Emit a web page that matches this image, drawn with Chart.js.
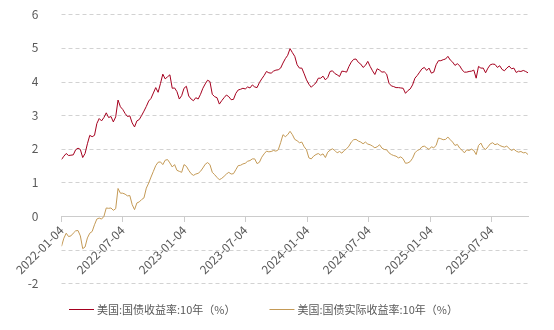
<!DOCTYPE html>
<html>
<head>
<meta charset="utf-8">
<script src="https://cdn.jsdelivr.net/npm/chart.js@4.4.1/dist/chart.umd.min.js"></script>
<style>
  html, body { margin: 0; padding: 0; background: #ffffff; }
  #wrap { width: 554px; height: 330px; }
</style>
</head>
<body>
<div id="wrap"><canvas id="c" width="554" height="330"></canvas></div>
<script>
// Weekly observations starting from the first date
const START_DATE = '2022-01-04';
const STEP_DAYS = 7;

// US 10Y Treasury yield (%)
const nominal10y = [
  1.68,1.78,1.86,1.80,1.81,1.82,1.97,2.02,1.98,1.74,
  1.86,2.15,2.40,2.36,2.40,2.75,2.90,2.83,2.93,3.07,
  2.93,2.96,2.80,2.95,3.45,3.25,3.17,3.05,2.96,2.98,
  2.77,2.65,2.83,2.87,2.99,3.12,3.26,3.42,3.50,3.66,
  3.82,3.68,3.94,4.22,4.08,4.14,4.20,3.80,3.81,3.70,
  3.48,3.58,3.80,3.86,3.57,3.48,3.43,3.52,3.48,3.62,
  3.80,3.93,4.04,4.00,3.62,3.55,3.52,3.33,3.43,3.52,
  3.60,3.55,3.46,3.47,3.65,3.75,3.77,3.80,3.78,3.84,
  3.81,3.90,3.84,3.82,3.97,4.08,4.18,4.30,4.26,4.25,
  4.31,4.34,4.35,4.40,4.55,4.68,4.78,4.98,4.86,4.75,
  4.50,4.40,4.40,4.23,4.05,3.92,3.83,3.90,3.96,4.10,
  4.10,4.16,4.05,4.12,4.30,4.32,4.24,4.20,4.15,4.31,
  4.30,4.28,4.45,4.58,4.66,4.67,4.57,4.52,4.42,4.48,
  4.60,4.45,4.32,4.21,4.38,4.34,4.28,4.29,4.22,3.95,
  3.87,3.85,3.82,3.82,3.81,3.80,3.65,3.73,3.78,3.90,
  4.10,4.18,4.28,4.38,4.42,4.33,4.40,4.25,4.28,4.50,
  4.62,4.62,4.65,4.67,4.75,4.64,4.58,4.48,4.53,4.47,
  4.35,4.28,4.28,4.30,4.31,4.34,4.10,4.45,4.40,4.40,
  4.26,4.40,4.50,4.52,4.51,4.42,4.47,4.36,4.32,4.40,
  4.46,4.38,4.40,4.27,4.31,4.30,4.33,4.30,4.26
];

// US 10Y real (inflation-indexed) yield (%)
const real10y = [
  -0.90,-0.66,-0.51,-0.61,-0.59,-0.51,-0.44,-0.43,-0.59,-0.97,
  -0.92,-0.65,-0.51,-0.46,-0.26,-0.09,-0.06,-0.09,-0.01,0.24,
  0.23,0.24,0.17,0.22,0.82,0.68,0.68,0.65,0.60,0.61,
  0.34,0.19,0.39,0.42,0.49,0.54,0.83,0.98,1.16,1.33,
  1.50,1.60,1.61,1.53,1.66,1.68,1.58,1.46,1.53,1.36,
  1.33,1.30,1.53,1.48,1.36,1.26,1.21,1.25,1.27,1.33,
  1.43,1.54,1.59,1.53,1.30,1.23,1.15,1.08,1.12,1.18,
  1.25,1.30,1.25,1.26,1.38,1.50,1.51,1.55,1.57,1.63,
  1.65,1.70,1.70,1.56,1.60,1.75,1.85,1.93,1.91,1.92,
  1.95,1.93,1.97,2.18,2.42,2.36,2.42,2.52,2.42,2.28,
  2.24,2.18,2.20,2.06,1.97,1.73,1.70,1.78,1.83,1.86,
  1.81,1.85,1.74,1.90,1.96,2.00,1.95,1.88,1.92,1.87,
  1.95,2.00,2.08,2.20,2.27,2.28,2.23,2.20,2.15,2.20,
  2.14,2.12,2.08,2.03,2.06,2.12,2.02,1.98,1.97,1.88,
  1.83,1.80,1.78,1.73,1.76,1.70,1.57,1.58,1.62,1.72,
  1.88,1.95,1.98,2.06,2.08,2.03,1.98,2.06,2.03,2.10,
  2.32,2.30,2.27,2.28,2.35,2.27,2.20,2.10,2.13,2.02,
  1.96,1.88,1.97,1.95,1.99,1.95,1.83,2.10,2.17,2.03,
  1.98,2.06,2.15,2.18,2.12,2.15,2.10,2.07,2.05,2.08,
  2.01,1.95,1.99,1.93,1.90,1.92,1.88,1.89,1.83
];

// Date labels shown along the horizontal axis
const tickLabels = [
  '2022-01-04','2022-07-04','2023-01-04','2023-07-04',
  '2024-01-04','2024-07-04','2025-01-04','2025-07-04'
];

const seriesNames = ['美国:国债收益率:10年（%）', '美国:国债实际收益率:10年（%）'];
const seriesColors = ['#a5001f', '#c49a56'];

const DAY_MS = 86400000;
const daysFromStart = d => Math.round((Date.parse(d) - Date.parse(START_DATE)) / DAY_MS);
const tickDays = tickLabels.map(daysFromStart);
const toPoints = arr => arr.map((v, i) => ({ x: i * STEP_DAYS, y: v }));
const lastDay = (nominal10y.length - 1) * STEP_DAYS;

const FONT = '"Noto Sans CJK SC", "Noto Sans", sans-serif';
const TEXT = '#595959';

// Dashed horizontal grid lines at each value tick (zero is the solid axis line)
const dashedGrid = {
  id: 'dashedGrid',
  beforeDatasetsDraw(chart) {
    const { ctx, chartArea: a, scales: { y } } = chart;
    ctx.save();
    ctx.strokeStyle = '#d2d2d2';
    ctx.lineWidth = 1;
    ctx.setLineDash([4, 3]);
    y.ticks.forEach(t => {
      if (t.value === 0) return;
      const py = Math.round(y.getPixelForValue(t.value)) + 0.5;
      ctx.beginPath();
      ctx.moveTo(a.left, py);
      ctx.lineTo(a.right, py);
      ctx.stroke();
    });
    ctx.restore();
  }
};

// Row of line-sample legend entries under the plot
const legendRow = {
  id: 'legendRow',
  afterDraw(chart) {
    const ctx = chart.ctx;
    ctx.save();
    ctx.font = '11px ' + FONT;
    ctx.textBaseline = 'middle';
    ctx.textAlign = 'left';
    let x = 69;
    const y = 309.5;
    chart.data.datasets.forEach(ds => {
      ctx.strokeStyle = ds.borderColor;
      ctx.lineWidth = 1;
      ctx.beginPath();
      ctx.moveTo(x, y);
      ctx.lineTo(x + 25, y);
      ctx.stroke();
      ctx.fillStyle = TEXT;
      ctx.fillText(ds.label, x + 28, y);
      x += 28 + ctx.measureText(ds.label).width + 34;
    });
    ctx.restore();
  }
};

new Chart(document.getElementById('c'), {
  type: 'line',
  data: {
    datasets: [
      { label: seriesNames[0], data: toPoints(nominal10y), borderColor: seriesColors[0],
        borderWidth: 1, pointRadius: 0, tension: 0, fill: false },
      { label: seriesNames[1], data: toPoints(real10y), borderColor: seriesColors[1],
        borderWidth: 1, pointRadius: 0, tension: 0, fill: false }
    ]
  },
  options: {
    responsive: false,
    animation: false,
    layout: { padding: { top: 14.3, right: 26, bottom: 46.7, left: 0 } },
    plugins: { legend: { display: false }, tooltip: { enabled: false } },
    scales: {
      x: {
        type: 'linear',
        position: { y: 0 },
        min: 0,
        max: lastDay,
        afterBuildTicks: s => { s.ticks = tickDays.map(v => ({ value: v })); },
        ticks: {
          autoSkip: false,
          minRotation: 45,
          maxRotation: 45,
          padding: 2,
          color: TEXT,
          font: { family: FONT, size: 12 },
          callback: (v, i) => tickLabels[i]
        },
        grid: { drawOnChartArea: false, drawTicks: true, tickLength: 5, color: '#cccccc' },
        border: { display: true, color: '#cccccc', width: 1 }
      },
      y: {
        min: -2,
        max: 6,
        afterFit: s => {
          s.width = 61.5;
          s.paddingTop = 0;
          s.paddingBottom = 0;
        },
        ticks: {
          stepSize: 1,
          padding: 15,
          color: TEXT,
          font: { family: FONT, size: 12 },
          callback: v => (v === -1 ? '' : v)
        },
        grid: { display: false },
        border: { display: false }
      }
    }
  },
  plugins: [dashedGrid, legendRow]
});
</script>
</body>
</html>
